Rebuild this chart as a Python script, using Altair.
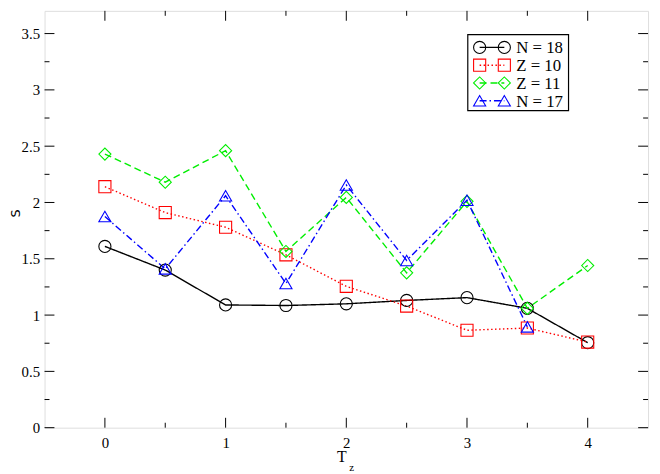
import altair as alt
import pandas as pd

# ---------------- data ----------------
t_z = [0, 0.5, 1, 1.5, 2, 2.5, 3, 3.5, 4]
n18 = [1.61, 1.40, 1.09, 1.085, 1.10, 1.13, 1.155, 1.06, 0.755]
z10 = [2.14, 1.91, 1.78, 1.535, 1.255, 1.08, 0.865, 0.885, 0.76]
z11 = [2.43, 2.18, 2.46, 1.565, 2.045, 1.375, 2.01, 1.06, 1.44]
n17 = [1.875, 1.41, 2.06, 1.28, 2.155, 1.485, 2.02, 0.895]

series_names = ["N = 18", "Z = 10", "Z = 11", "N = 17"]
series_vals = [n18, z10, z11, n17]
colors = ["#000000", "#ff0000", "#00ee00", "#0000ff"]
dashes = [[1, 0], [1.5, 2.5], [7, 4], [7, 3, 1.5, 3]]
shapes = ["circle", "square", "diamond", "triangle-up"]

y_major = [0, 0.5, 1, 1.5, 2, 2.5, 3, 3.5]
y_minor = [0.25, 0.75, 1.25, 1.75, 2.25, 2.75, 3.25]
x_major = [0, 1, 2, 3, 4]
x_minor = [0.5, 1.5, 2.5, 3.5]

rows = []
for name, vals in zip(series_names, series_vals):
    for i, v in enumerate(vals):
        rows.append({"series": name, "x": t_z[i], "y": v, "o": i})
df = pd.DataFrame(rows)

# ---------------- layout ----------------
W, H = 611, 422
XDOM = [-0.5, 4.5]
YDOM = [0, H / 114.0]
SERIF = "Times New Roman, Liberation Serif, serif"

xscale = alt.Scale(domain=XDOM, nice=False, zero=False)
yscale = alt.Scale(domain=YDOM, nice=False, zero=False)
cscale = alt.Scale(domain=series_names, range=colors)
dscale = alt.Scale(domain=series_names, range=dashes)
sscale = alt.Scale(domain=series_names, range=shapes)

xax = alt.Axis(values=x_major, format="d", ticks=False, domain=False, grid=False,
               title=None, labelPadding=8)
yax = alt.Axis(values=y_major, format=".2~f", ticks=False, domain=False, grid=False,
               title=None, labelPadding=5)

base = alt.Chart(df)
lines = base.mark_line(strokeWidth=1.4).encode(
    x=alt.X("x:Q", scale=xscale, axis=xax),
    y=alt.Y("y:Q", scale=yscale, axis=yax),
    color=alt.Color("series:N", scale=cscale, legend=None),
    strokeDash=alt.StrokeDash("series:N", scale=dscale, legend=None),
    order="o:Q",
    detail="series:N",
)
points = base.mark_point(filled=False, size=150, strokeWidth=1.1, opacity=1).encode(
    x=alt.X("x:Q", scale=xscale),
    y=alt.Y("y:Q", scale=yscale),
    color=alt.Color("series:N", scale=cscale, legend=None),
    shape=alt.Shape("series:N", scale=sscale, legend=None),
)

# ticks (inside, on all four sides)
def yticks(vals, length):
    d = pd.DataFrame({"v": vals})
    left = alt.Chart(d).mark_rule(color="black", strokeWidth=1).encode(
        y=alt.Y("v:Q", scale=yscale), x=alt.value(0), x2=alt.value(length))
    right = alt.Chart(d).mark_rule(color="black", strokeWidth=1).encode(
        y=alt.Y("v:Q", scale=yscale), x=alt.value(W - length), x2=alt.value(W))
    return [left, right]

def xticks(vals, length):
    d = pd.DataFrame({"v": vals})
    bottom = alt.Chart(d).mark_rule(color="black", strokeWidth=1).encode(
        x=alt.X("v:Q", scale=xscale), y=alt.value(H - length), y2=alt.value(H))
    top = alt.Chart(d).mark_rule(color="black", strokeWidth=1).encode(
        x=alt.X("v:Q", scale=xscale), y=alt.value(0), y2=alt.value(length))
    return [bottom, top]

tick_layers = yticks(y_major, 10) + yticks(y_minor, 5) + xticks(x_major, 10) + xticks(x_minor, 5)

# legend (manual)
one = pd.DataFrame({"a": [0]})
LX0, LX1, LY0, LY1 = 428.5, 530.5, 24, 101
leg_layers = [
    alt.Chart(one).mark_rect(fill="white", stroke="black", strokeWidth=1.2).encode(
        x=alt.value(LX0), x2=alt.value(LX1), y=alt.value(LY0), y2=alt.value(LY1))
]
sx1, sx2, tx = 440.5, 465.5, 477.5
for i, name in enumerate(series_names):
    yy = 37 + i * 18
    leg_layers.append(alt.Chart(one).mark_rule(
        color=colors[i], strokeDash=dashes[i], strokeWidth=1.4).encode(
        x=alt.value(sx1), x2=alt.value(sx2), y=alt.value(yy)))
    for xx in (sx1, sx2):
        leg_layers.append(alt.Chart(one).mark_point(
            filled=False, size=150, strokeWidth=1.1, color=colors[i], shape=shapes[i],
            opacity=1).encode(x=alt.value(xx), y=alt.value(yy)))
    leg_layers.append(alt.Chart(one).mark_text(
        text=name, font=SERIF, fontSize=17, align="left", baseline="middle",
        color="black").encode(x=alt.value(tx), y=alt.value(yy + 1)))

# axis titles
titles = [
    alt.Chart(one).mark_text(text="S", font="DejaVu Sans", fontSize=13, angle=270,
                             align="center", baseline="middle", color="black").encode(
        x=alt.value(-29), y=alt.value(205)),
    alt.Chart(one).mark_text(text="T", font=SERIF, fontSize=16, align="center",
                             baseline="alphabetic", color="black").encode(
        x=alt.value(301), y=alt.value(457)),
    alt.Chart(one).mark_text(text="z", font=SERIF, fontSize=11, align="center",
                             baseline="alphabetic", color="black").encode(
        x=alt.value(311), y=alt.value(466)),
]

chart = alt.layer(*tick_layers, lines, points, *leg_layers, *titles).properties(
    width=W, height=H,
    autosize=alt.AutoSizeParams(type="none"),
    padding={"left": 37, "top": 0, "right": 4, "bottom": 44},
).configure_view(stroke="black", strokeWidth=1.2).configure(
    background="white"
).configure_axis(labelFont="serif", labelFontSize=15, labelColor="black")

chart.save("out.html", embed_options={"renderer": "svg", "actions": False})
